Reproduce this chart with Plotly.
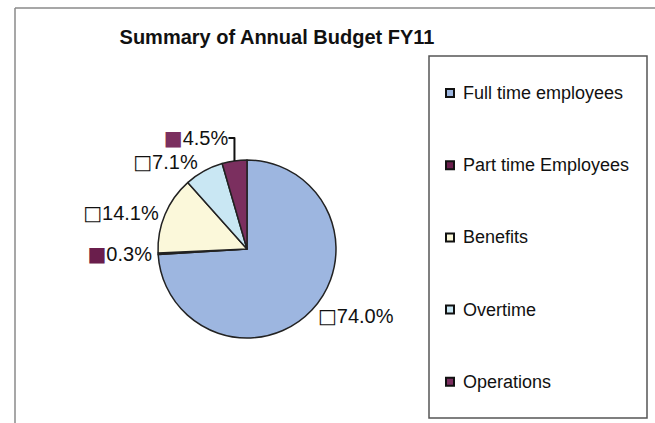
import plotly.graph_objects as go

# ---- data ----
categories = ["Full time employees", "Part time Employees", "Benefits", "Overtime", "Operations"]
values = [74.0, 0.3, 14.1, 7.1, 4.5]
colors = ["#9DB6E0", "#6A1E4C", "#FBF8DA", "#C9E7F3", "#7B2F5F"]
title_text = "Summary of Annual Budget FY11"

W, H = 655, 423
FONT = "Liberation Sans, Arial, sans-serif"


def is_dark(hex_color):
    h = hex_color.lstrip("#")
    r, g, b = int(h[0:2], 16), int(h[2:4], 16), int(h[4:6], 16)
    return (0.299 * r + 0.587 * g + 0.114 * b) < 140


templates = []
for c in colors:
    if is_dark(c):
        key = f"<span style='color:{c};font-family:DejaVu Sans;font-size:20px'>■</span>"
    else:
        key = "<span style='font-family:DejaVu Sans;font-size:20px'>□</span>"
    templates.append(key + "%{percent:.1%}")

# pie geometry (pixels)
cx, cy, r = 247, 249, 89

fig = go.Figure(
    go.Pie(
        labels=categories,
        values=values,
        sort=False,
        direction="clockwise",
        rotation=0,
        marker=dict(colors=colors, line=dict(color="#222222", width=1.5)),
        textposition="outside",
        texttemplate=templates,
        textfont=dict(family=FONT, size=20, color="#111111"),
        hoverinfo="skip",
        showlegend=False,
        domain=dict(x=[(cx - r) / W, (cx + r) / W], y=[(H - cy - r) / H, (H - cy + r) / H]),
    )
)

shapes = []
annotations = []

# outer chart frame (top and left edges visible)
shapes.append(dict(type="line", xref="paper", yref="paper", x0=15 / W, x1=1.0, y0=1 - 8 / H, y1=1 - 8 / H,
                   line=dict(color="#8A8A8A", width=1.5)))
shapes.append(dict(type="line", xref="paper", yref="paper", x0=15 / W, x1=15 / W, y0=0, y1=1 - 8 / H,
                   line=dict(color="#8A8A8A", width=1.5)))

# legend box
lx0, lx1, ly0, ly1 = 429, 647, 56, 418
shapes.append(dict(type="rect", xref="paper", yref="paper", x0=lx0 / W, x1=lx1 / W,
                   y0=1 - ly1 / H, y1=1 - ly0 / H, line=dict(color="#555555", width=1.5),
                   fillcolor="rgba(0,0,0,0)"))

first_y, step = 93, 72.2
for i, (cat, col) in enumerate(zip(categories, colors)):
    yc = first_y + i * step
    shapes.append(dict(type="rect", xref="paper", yref="paper",
                       x0=446 / W, x1=454 / W, y0=1 - (yc + 4) / H, y1=1 - (yc - 4) / H,
                       line=dict(color="#111111", width=2), fillcolor=col))
    annotations.append(dict(text=cat, xref="paper", yref="paper", x=461 / W, y=1 - yc / H,
                            xanchor="left", yanchor="middle", showarrow=False,
                            font=dict(family=FONT, size=18, color="#111111")))

fig.update_layout(
    width=W,
    height=H,
    margin=dict(l=0, r=0, t=0, b=0),
    paper_bgcolor="white",
    plot_bgcolor="white",
    title=dict(text=f"<b>{title_text}</b>", x=277 / W, xref="paper", xanchor="center",
               y=1 - 37 / H, yref="paper", yanchor="middle",
               font=dict(family=FONT, size=20, color="#111111")),
    shapes=shapes,
    annotations=annotations,
)

fig.write_html("out.html", config={"displayModeBar": False},
               post_script="document.body.style.margin='0';")
